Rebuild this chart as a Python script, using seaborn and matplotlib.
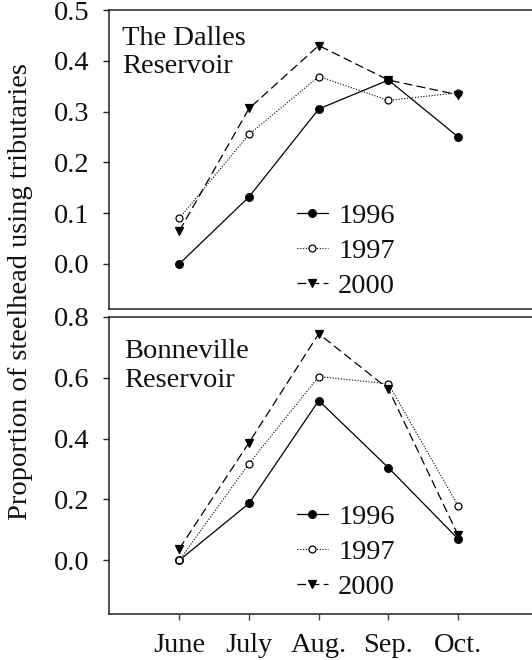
import matplotlib
matplotlib.use("Agg")
import matplotlib.pyplot as plt
import seaborn as sns
import pandas as pd

months = ["June", "July", "Aug.", "Sep.", "Oct."]
years = ["1996", "1997", "2000"]

dalles_1996 = [0.0, 0.132, 0.305, 0.362, 0.25]
dalles_1997 = [0.09, 0.255, 0.369, 0.322, 0.337]
dalles_2000 = [0.065, 0.306, 0.43, 0.362, 0.333]

bonn_1996 = [0.0, 0.187, 0.525, 0.304, 0.07]
bonn_1997 = [0.0, 0.318, 0.604, 0.58, 0.179]
bonn_2000 = [0.038, 0.387, 0.745, 0.563, 0.082]

panel_titles = ["The Dalles\nReservoir", "Bonneville\nReservoir"]
top_ticks = [0.0, 0.1, 0.2, 0.3, 0.4, 0.5]
bottom_ticks = [0.0, 0.2, 0.4, 0.6, 0.8]
ylabel = "Proportion of steelhead using tributaries"

sns.set_theme(style="ticks")
plt.rcParams["font.family"] = ["Liberation Serif", "DejaVu Serif"]

FS = 20.5
W, H = 532, 660
fig = plt.figure(figsize=(W / 100, H / 100), dpi=100)

def box(l, t, r, b):
    return [l / W, 1 - b / H, (r - l) / W, (b - t) / H]

ax1 = fig.add_axes(box(109, 10, 532, 309))
ax2 = fig.add_axes(box(109, 317, 532, 614))

styles = {
    "1996": dict(marker="o", linestyle="-", markerfacecolor="black", markersize=5.5, linewidth=0.9),
    "1997": dict(marker="o", linestyle=(0, (1, 1.5)), markerfacecolor="white", markersize=5, linewidth=0.8),
    "2000": dict(marker="v", linestyle=(0, (7, 3.5)), markerfacecolor="black", markersize=6, linewidth=0.9),
}

def draw(ax, series, ylim, ticks, title, title_xy, leg_y):
    df = pd.DataFrame({"month": months * 3,
                       "year": sum([[y] * len(months) for y in years], []),
                       "value": sum(series, [])})
    for y in years:
        sub = df[df["year"] == y]
        sns.lineplot(data=sub, x="month", y="value", ax=ax, color="black",
                     markeredgecolor="black", markeredgewidth=0.9, label=y,
                     **styles[y])
    ax.set_xlim(-1.01, 5.06)
    ax.set_ylim(*ylim)
    ax.set_yticks(ticks)
    ax.set_yticklabels([f"{t:.1f}" for t in ticks], fontsize=FS)
    ax.set_xlabel("")
    ax.set_ylabel("")
    for s in ax.spines.values():
        s.set_color("#222222")
        s.set_linewidth(1.1)
    ax.spines["right"].set_visible(False)
    ax.tick_params(axis="y", direction="out", length=4, width=1, colors="#222222",
                   labelcolor="#111111", pad=10)
    ax.text(title_xy[0], title_xy[1], title, transform=ax.transAxes, fontsize=FS,
            va="top", ha="left", linespacing=1.2, color="#111111")
    leg = ax.legend(loc="center left", bbox_to_anchor=(0.444, leg_y),
                    frameon=False, fontsize=FS, handlelength=1.1, handletextpad=0.35,
                    labelspacing=0.32, borderaxespad=0, borderpad=0)
    for t in leg.get_texts():
        t.set_color("#111111")

draw(ax1, [dalles_1996, dalles_1997, dalles_2000], (-0.089, 0.5), top_ticks,
     panel_titles[0], (0.03, 0.948), 0.193)
draw(ax2, [bonn_1996, bonn_1997, bonn_2000], (-0.177, 0.8), bottom_ticks,
     panel_titles[1], (0.035, 0.925), 0.21)

ax1.tick_params(axis="x", bottom=False, labelbottom=False)
ax2.tick_params(axis="x", direction="out", length=4, width=1, colors="#444444",
                labelcolor="#111111", labelsize=FS, pad=10)

fig.text(21 / W, 1 - 292 / H, ylabel, rotation=90, ha="center", va="center",
         fontsize=20.5, color="#111111")

fig.savefig("out.png", dpi=100)
